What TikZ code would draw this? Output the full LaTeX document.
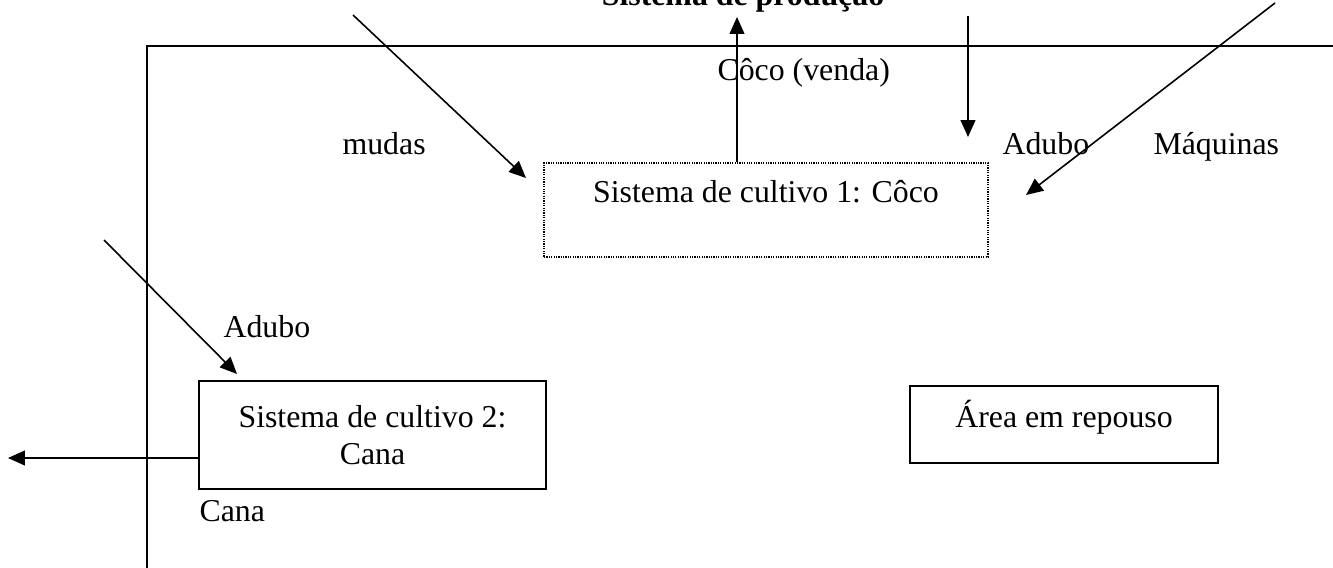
\documentclass[tikz,border=0pt]{standalone}
\usepackage{fontspec}
\setmainfont{Liberation Serif}
\usepackage{tikz}
\usetikzlibrary{arrows.meta,positioning}

\begin{document}
\begin{tikzpicture}[
    x=0.377pt, y=-0.377pt,
    every node/.style={font=\fontsize{12}{13.8}\selectfont, inner sep=0pt},
    lbl/.style={anchor=base west},
    box/.style={rectangle, draw, line width=0.7pt, align=center},
    dotbox/.style={rectangle, draw, line width=0.6pt, dash pattern=on 0.45pt off 0.45pt},
    frame/.style={line width=0.85pt},
    arrow/.style={-{Triangle[length=6.4pt,width=5.6pt]}, line width=0.6pt}
]
\useasboundingbox (0,0) rectangle (1333,567);

% Frame of the production system
\draw[frame] (1345,46) -- (147,46) -- (147,580);
\node[anchor=base, font=\fontsize{12}{13.8}\selectfont\bfseries] (title) at (743,5) {Sistema de produção};

% Cropping systems
\node[dotbox, minimum width=167.4pt, minimum height=35.4pt,
      text height=8.2pt, text depth=13.5pt] (c1) at (766,210) {Sistema de cultivo 1: Côco};
\node[box, minimum width=130.8pt, minimum height=40.7pt] (c2) at (372.5,435) {Sistema de cultivo 2:\\Cana};
\node[box, minimum width=116.1pt, minimum height=29pt,
      text height=10pt, text depth=8pt] (rest) at (1064,424.5) {Área em repouso};

% Labels
\node[lbl] (venda)   at (717,80)  {Côco (venda)};
\node[lbl] (mudas)   at (342,154) {mudas};
\node[lbl] (adubo)   at (1002,154) {Adubo};
\node[lbl] (maq)     at (1153,154) {Máquinas};
\node[lbl] (adubob)  at (223,337) {Adubo};
\node[lbl] (cana)    at (199,521) {Cana};

% Free ends of the flows
\coordinate (vendaout) at (737,17);
\coordinate (mudasin)  at (353,15);
\coordinate (mudasend) at (526,178);
\coordinate (aduboin)  at (968,16);
\coordinate (aduboend) at (968,137);
\coordinate (maqin)    at (1275,3);
\coordinate (maqend)   at (1026,195);
\coordinate (adubobin)  at (104,240);
\coordinate (adubobend) at (237,374);
\coordinate (canaout)  at (8,458);

% Arrows
\draw[arrow] (vendaout |- c1.north) -- (vendaout);
\draw[arrow] (mudasin)  -- (mudasend);
\draw[arrow] (aduboin)  -- (aduboend);
\draw[arrow] (maqin)    -- (maqend);
\draw[arrow] (adubobin) -- (adubobend);
\draw[arrow] (canaout -| c2.west) -- (canaout);

\end{tikzpicture}
\end{document}
